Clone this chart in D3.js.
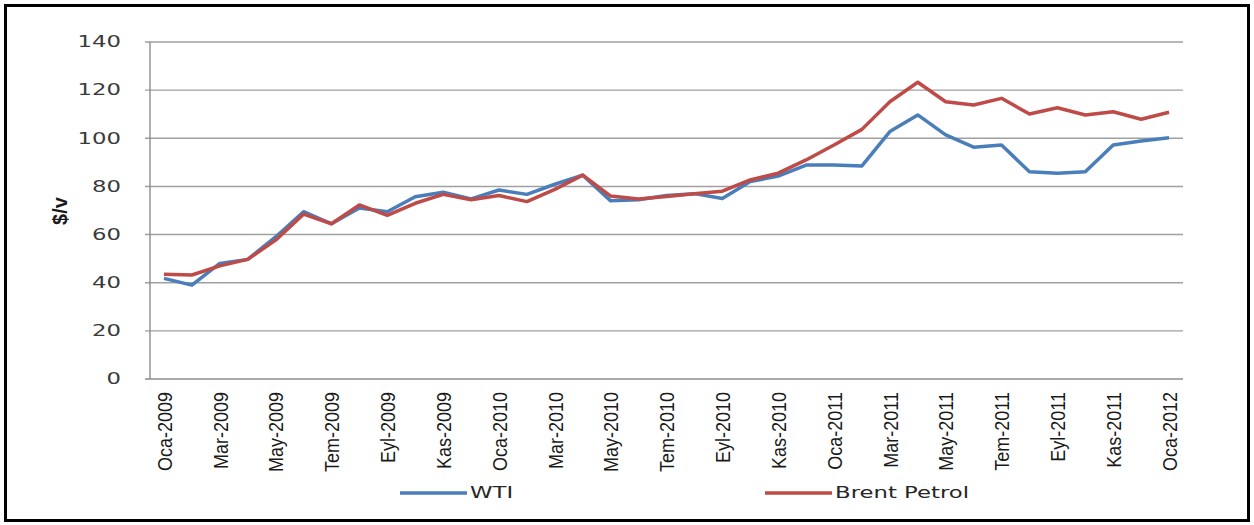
<!DOCTYPE html>
<html>
<head>
<meta charset="utf-8">
<script src="https://cdn.jsdelivr.net/npm/d3@7"></script>
<style>
  body { margin: 0; background: #fff; }
  svg { display: block; }
</style>
</head>
<body>
<div id="chart"></div>
<script>
var months = ["Oca","Şub","Mar","Nis","May","Haz","Tem","Ağu","Eyl","Eki","Kas","Ara"];
var years = [2009, 2010, 2011, 2012];

// monthly periods Oca-2009 .. Oca-2012
var periods = [];
years.forEach(function (y) {
	months.forEach(function (m) { periods.push(m + "-" + y); });
});
periods = periods.slice(0, 37);

var wti = [41.8, 39.0, 48.0, 49.7, 59.0, 69.5, 64.5, 71.0, 69.5, 75.7, 77.6, 74.8, 78.5,
	76.7, 80.9, 84.7, 74.0, 74.5, 76.2, 77.0, 75.0, 82.0, 84.3, 88.9, 88.9, 88.5,
	102.8, 109.7, 101.4, 96.3, 97.2, 86.1, 85.5, 86.1, 97.2, 98.9, 100.2];
var brent = [43.5, 43.2, 47.0, 49.7, 57.7, 68.5, 64.5, 72.3, 68.0, 73.0, 76.7, 74.5, 76.2,
	73.7, 78.8, 84.7, 76.0, 74.8, 75.8, 77.0, 78.0, 82.7, 85.5, 91.0, 97.2, 103.7,
	115.2, 123.3, 115.2, 113.8, 116.6, 110.1, 112.7, 109.7, 111.0, 107.9, 110.8];

var yTicks = [0, 20, 40, 60, 80, 100, 120, 140];
var xTickLabels = periods.filter(function (d, i) { return i % 2 === 0; });

var seriesNames = ["WTI", "Brent Petrol"];
var seriesColors = ["#4a7ebb", "#be4b48"];

var width = 1254, height = 525,
	plotLeft = 150, plotRight = 1183,
	plotTop = 42, plotBottom = 379,
	stretch = 1.52; // the original text is drawn wide

var svg = d3.select("#chart").append("svg")
	.attr("width", width)
	.attr("height", height);

svg.append("rect")
	.attr("x", 5.5).attr("y", 5.5)
	.attr("width", 1243).attr("height", 515)
	.attr("fill", "#fff")
	.attr("stroke", "#000")
	.attr("stroke-width", 3);

var x = d3.scalePoint()
	.domain(periods)
	.range([plotLeft, plotRight])
	.padding(0.5);

var y = d3.scaleLinear()
	.domain([0, 140])
	.range([plotBottom, plotTop]);

// gridlines
svg.append("g")
	.selectAll("line")
	.data(yTicks)
	.enter().append("line")
	.attr("x1", plotLeft - 5)
	.attr("x2", plotRight)
	.attr("y1", function (d) { return y(d); })
	.attr("y2", function (d) { return y(d); })
	.attr("stroke", function (d) { return d === 0 ? "#8c8c8c" : "#a0a0a0"; })
	.attr("stroke-width", 1.4);

svg.append("line")
	.attr("x1", plotLeft).attr("x2", plotLeft)
	.attr("y1", plotTop).attr("y2", plotBottom)
	.attr("stroke", "#8c8c8c")
	.attr("stroke-width", 1.4);

// y axis
var yAxis = svg.append("g")
	.attr("transform", "translate(121,0)")
	.call(d3.axisLeft(y).tickValues(yTicks).tickSize(0).tickPadding(0));
yAxis.select(".domain").remove();
yAxis.selectAll("text")
	.attr("x", 0)
	.attr("transform", "scale(" + stretch + ",1)")
	.attr("fill", "#3a3a3a")
	.style("font-family", "DejaVu Sans, Verdana, sans-serif")
	.style("font-size", "15px");

svg.append("text")
	.attr("transform", "translate(67,211) rotate(-90)")
	.attr("text-anchor", "middle")
	.attr("fill", "#1a1a1a")
	.style("font-family", "Liberation Sans Narrow, Arial Narrow, sans-serif")
	.style("font-weight", "bold")
	.style("font-size", "20px")
	.text("$/v");

// x axis
var xAxis = svg.append("g")
	.attr("transform", "translate(0," + plotBottom + ")")
	.call(d3.axisBottom(x).tickValues(xTickLabels).tickSize(0).tickPadding(0));
xAxis.select(".domain").remove();
xAxis.selectAll("text")
	.attr("transform", "rotate(-90) scale(1,1.12)")
	.attr("text-anchor", "end")
	.attr("x", -13)
	.attr("y", 0)
	.attr("dy", "0.36em")
	.attr("fill", "#1a1a1a")
	.style("font-family", "Liberation Sans Narrow, Arial Narrow, sans-serif")
	.style("font-size", "18px");

// lines
var line = d3.line()
	.x(function (d, i) { return x(periods[i]); })
	.y(function (d) { return y(d); });

[wti, brent].forEach(function (s, k) {
	svg.append("path")
		.datum(s)
		.attr("d", line)
		.attr("fill", "none")
		.attr("stroke", seriesColors[k])
		.attr("stroke-width", 3.5)
		.attr("stroke-linejoin", "round");
});

// legend
var legendX = [400, 765];
var legend = svg.selectAll("g.legend")
	.data(seriesNames)
	.enter().append("g")
	.attr("class", "legend")
	.attr("transform", function (d, i) { return "translate(" + legendX[i] + ",493)"; });

legend.append("line")
	.attr("x1", 0).attr("x2", 67)
	.attr("stroke", function (d, i) { return seriesColors[i]; })
	.attr("stroke-width", 3.5);

legend.append("text")
	.attr("transform", "translate(70,0) scale(" + stretch + ",1)")
	.attr("dy", "0.36em")
	.attr("fill", "#262626")
	.style("font-family", "DejaVu Sans, Verdana, sans-serif")
	.style("font-size", "15px")
	.text(function (d) { return d; });
</script>
</body>
</html>
